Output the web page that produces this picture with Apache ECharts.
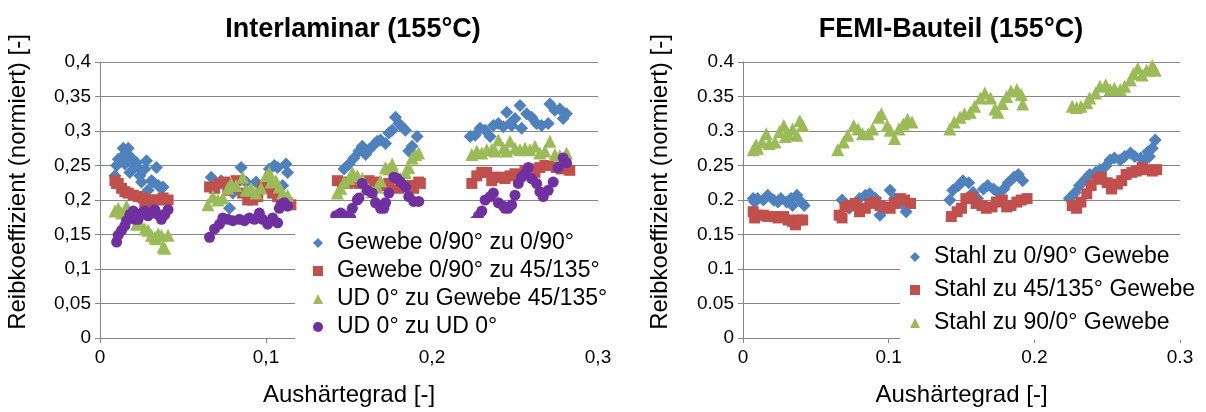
<!DOCTYPE html>
<html><head><meta charset="utf-8">
<script src="https://cdn.jsdelivr.net/npm/echarts@6/dist/echarts.min.js"></script>
<style>html,body{margin:0;padding:0;background:#fff}#c{width:1206px;height:412px}</style>
</head><body><div id="c"></div>
<script>
// ---- Data (x = Aushärtegrad, y = Reibkoeffizient normiert) ----
const leftTitle = 'Interlaminar (155°C)';
const rightTitle = 'FEMI-Bauteil (155°C)';
const xName = 'Aushärtegrad [-]';
const yName = 'Reibkoeffizient (normiert) [-]';
const leftNames = ['Gewebe 0/90° zu 0/90°', 'Gewebe 0/90° zu 45/135°', 'UD 0° zu Gewebe 45/135°', 'UD 0° zu UD 0°'];
const rightNames = ['Stahl zu 0/90° Gewebe', 'Stahl zu 45/135° Gewebe', 'Stahl zu 90/0° Gewebe'];

const gewebe090zu090 = [
[0.009,0.235],[0.010,0.250],[0.011,0.259],[0.013,0.262],[0.014,0.275],[0.015,0.252],[0.016,0.266],[0.017,0.275],[0.018,0.240],[0.019,0.261],[0.021,0.248],[0.022,0.254],[0.023,0.247],[0.024,0.235],[0.025,0.226],[0.027,0.245],[0.028,0.257],[0.029,0.214],[0.031,0.228],[0.032,0.226],[0.034,0.247],[0.035,0.221],[0.037,0.217],[0.038,0.219],
[0.067,0.233],[0.073,0.228],[0.078,0.188],[0.080,0.210],[0.085,0.247],[0.088,0.226],[0.094,0.226],[0.098,0.216],[0.102,0.245],[0.105,0.250],[0.107,0.247],[0.110,0.221],[0.112,0.252],[0.113,0.240],
[0.147,0.245],[0.150,0.252],[0.153,0.261],[0.156,0.271],[0.158,0.278],[0.160,0.266],[0.162,0.273],[0.165,0.280],[0.167,0.285],[0.169,0.287],[0.172,0.282],[0.174,0.297],[0.176,0.301],[0.178,0.320],[0.180,0.311],[0.182,0.306],[0.184,0.301],[0.186,0.271],[0.188,0.278],[0.191,0.292],
[0.223,0.292],[0.226,0.294],[0.229,0.304],[0.232,0.301],[0.235,0.292],[0.237,0.308],[0.240,0.311],[0.243,0.306],[0.245,0.327],[0.247,0.311],[0.248,0.308],[0.250,0.318],[0.253,0.337],[0.254,0.304],[0.257,0.325],[0.260,0.320],[0.263,0.311],[0.266,0.308],[0.270,0.311],[0.271,0.339],[0.274,0.330],[0.277,0.332],[0.279,0.318],[0.281,0.325]
];
const gewebe090zu45135 = [
[0.009,0.228],[0.010,0.224],[0.011,0.224],[0.013,0.217],[0.015,0.212],[0.017,0.210],[0.020,0.207],[0.023,0.205],[0.026,0.203],[0.027,0.196],[0.029,0.200],[0.031,0.198],[0.032,0.200],[0.035,0.200],[0.038,0.203],[0.041,0.200],
[0.066,0.219],[0.069,0.217],[0.072,0.224],[0.075,0.226],[0.077,0.214],[0.080,0.224],[0.082,0.228],[0.086,0.210],[0.089,0.200],[0.092,0.200],[0.095,0.205],[0.098,0.219],[0.101,0.217],[0.104,0.210],[0.107,0.205],[0.110,0.198],[0.113,0.196],[0.115,0.193],
[0.143,0.228],[0.146,0.226],[0.149,0.224],[0.152,0.226],[0.156,0.224],[0.159,0.226],[0.162,0.228],[0.166,0.226],[0.170,0.221],[0.174,0.224],[0.177,0.221],[0.180,0.217],[0.183,0.219],[0.186,0.221],[0.189,0.217],[0.192,0.226],[0.193,0.224],
[0.224,0.224],[0.227,0.235],[0.230,0.240],[0.233,0.240],[0.236,0.228],[0.238,0.233],[0.241,0.233],[0.244,0.231],[0.247,0.235],[0.250,0.238],[0.253,0.235],[0.256,0.243],[0.259,0.245],[0.262,0.240],[0.265,0.247],[0.268,0.250],[0.272,0.250],[0.275,0.247],[0.278,0.245],[0.281,0.247],[0.283,0.243]
];
const ud0zuGewebe45135 = [
[0.009,0.184],[0.011,0.188],[0.013,0.181],[0.016,0.191],[0.019,0.177],[0.022,0.165],[0.024,0.167],[0.027,0.158],[0.029,0.156],[0.031,0.149],[0.033,0.146],[0.034,0.144],[0.035,0.151],[0.037,0.149],[0.038,0.132],[0.039,0.130],[0.041,0.149],
[0.065,0.193],[0.068,0.205],[0.071,0.200],[0.074,0.203],[0.077,0.217],[0.079,0.224],[0.082,0.221],[0.086,0.233],[0.088,0.214],[0.091,0.217],[0.094,0.210],[0.097,0.217],[0.100,0.235],[0.102,0.240],[0.103,0.226],[0.106,0.228],[0.108,0.219],[0.110,0.210],[0.113,0.207],
[0.143,0.210],[0.145,0.217],[0.147,0.226],[0.150,0.231],[0.152,0.240],[0.155,0.235],[0.158,0.231],[0.160,0.217],[0.161,0.219],[0.164,0.212],[0.167,0.219],[0.169,0.228],[0.172,0.247],[0.174,0.245],[0.176,0.252],[0.178,0.240],[0.181,0.231],[0.184,0.240],[0.186,0.247],[0.188,0.261],[0.190,0.266],[0.192,0.268],
[0.224,0.266],[0.227,0.271],[0.230,0.268],[0.233,0.273],[0.236,0.273],[0.238,0.271],[0.240,0.287],[0.243,0.275],[0.245,0.271],[0.247,0.285],[0.250,0.275],[0.253,0.273],[0.256,0.275],[0.259,0.273],[0.262,0.278],[0.265,0.268],[0.268,0.271],[0.271,0.285],[0.274,0.266],[0.277,0.264],[0.281,0.268]
];
const ud0zuUd0 = [
[0.010,0.139],[0.011,0.149],[0.013,0.156],[0.015,0.163],[0.016,0.170],[0.018,0.179],[0.020,0.184],[0.021,0.172],[0.023,0.172],[0.025,0.181],[0.027,0.184],[0.029,0.177],[0.031,0.181],[0.033,0.186],[0.035,0.179],[0.037,0.172],[0.039,0.179],[0.041,0.186],
[0.066,0.146],[0.069,0.158],[0.072,0.165],[0.074,0.174],[0.077,0.172],[0.080,0.170],[0.084,0.172],[0.087,0.170],[0.090,0.174],[0.093,0.172],[0.096,0.181],[0.098,0.172],[0.101,0.165],[0.104,0.174],[0.107,0.167],[0.108,0.188],[0.109,0.193],[0.111,0.196],[0.113,0.191],
[0.142,0.177],[0.145,0.181],[0.148,0.177],[0.151,0.174],[0.152,0.188],[0.155,0.200],[0.156,0.203],[0.158,0.224],[0.161,0.214],[0.164,0.210],[0.166,0.196],[0.169,0.188],[0.171,0.188],[0.172,0.196],[0.174,0.210],[0.177,0.233],[0.179,0.231],[0.181,0.226],[0.184,0.219],[0.186,0.205],[0.189,0.198],[0.192,0.198],
[0.226,0.170],[0.228,0.177],[0.230,0.184],[0.232,0.200],[0.235,0.205],[0.237,0.210],[0.240,0.196],[0.243,0.191],[0.244,0.188],[0.246,0.188],[0.248,0.193],[0.250,0.207],[0.252,0.224],[0.254,0.233],[0.256,0.238],[0.258,0.247],[0.260,0.231],[0.263,0.224],[0.265,0.212],[0.267,0.205],[0.270,0.214],[0.273,0.226],[0.276,0.247],[0.279,0.261],[0.281,0.254]
];
const stahlZu090 = [
[0.007,0.202],[0.008,0.197],[0.010,0.202],[0.014,0.200],[0.017,0.207],[0.021,0.200],[0.024,0.197],[0.026,0.202],[0.030,0.197],[0.033,0.202],[0.034,0.192],[0.037,0.207],[0.040,0.197],[0.042,0.192],
[0.068,0.200],[0.073,0.188],[0.080,0.202],[0.084,0.207],[0.087,0.209],[0.091,0.202],[0.094,0.178],[0.097,0.188],[0.101,0.214],[0.104,0.202],[0.109,0.195],[0.112,0.183],
[0.142,0.200],[0.144,0.214],[0.148,0.221],[0.151,0.228],[0.155,0.225],[0.158,0.211],[0.161,0.202],[0.165,0.216],[0.168,0.221],[0.172,0.216],[0.175,0.211],[0.179,0.216],[0.182,0.225],[0.186,0.233],[0.189,0.237],[0.192,0.228],
[0.224,0.202],[0.228,0.211],[0.231,0.221],[0.235,0.230],[0.238,0.237],[0.242,0.240],[0.245,0.244],[0.249,0.249],[0.252,0.258],[0.255,0.261],[0.259,0.258],[0.262,0.263],[0.266,0.268],[0.269,0.263],[0.273,0.261],[0.276,0.258],[0.278,0.270],[0.279,0.263],[0.281,0.275],[0.283,0.287]
];
const stahlZu45135 = [
[0.007,0.183],[0.008,0.174],[0.010,0.178],[0.014,0.178],[0.017,0.176],[0.021,0.176],[0.024,0.174],[0.028,0.176],[0.031,0.171],[0.034,0.169],[0.036,0.164],[0.038,0.171],[0.041,0.171],
[0.066,0.178],[0.068,0.174],[0.070,0.190],[0.073,0.192],[0.077,0.195],[0.080,0.183],[0.084,0.188],[0.087,0.195],[0.091,0.197],[0.094,0.192],[0.097,0.190],[0.101,0.188],[0.104,0.195],[0.108,0.202],[0.111,0.200],[0.115,0.195],
[0.143,0.176],[0.147,0.183],[0.150,0.188],[0.153,0.202],[0.157,0.204],[0.160,0.195],[0.164,0.192],[0.167,0.188],[0.171,0.190],[0.174,0.197],[0.178,0.200],[0.181,0.190],[0.184,0.192],[0.188,0.197],[0.191,0.200],[0.195,0.202],
[0.226,0.192],[0.229,0.188],[0.232,0.197],[0.236,0.209],[0.239,0.221],[0.243,0.230],[0.246,0.233],[0.250,0.225],[0.253,0.216],[0.257,0.223],[0.260,0.228],[0.263,0.237],[0.267,0.240],[0.270,0.242],[0.274,0.247],[0.277,0.244],[0.281,0.242],[0.284,0.244]
];
const stahlZu900 = [
[0.007,0.273],[0.009,0.280],[0.010,0.275],[0.013,0.284],[0.016,0.296],[0.018,0.282],[0.022,0.284],[0.025,0.299],[0.028,0.308],[0.029,0.292],[0.031,0.296],[0.034,0.303],[0.037,0.294],[0.039,0.315],[0.041,0.308],
[0.065,0.273],[0.069,0.284],[0.072,0.294],[0.076,0.308],[0.079,0.303],[0.082,0.296],[0.086,0.296],[0.089,0.303],[0.093,0.320],[0.095,0.325],[0.099,0.308],[0.101,0.301],[0.104,0.289],[0.107,0.303],[0.110,0.310],[0.113,0.317],[0.116,0.313],
[0.142,0.303],[0.145,0.313],[0.149,0.320],[0.152,0.325],[0.156,0.327],[0.159,0.336],[0.163,0.348],[0.166,0.355],[0.170,0.348],[0.173,0.332],[0.175,0.327],[0.178,0.340],[0.181,0.350],[0.184,0.358],[0.188,0.360],[0.191,0.353],[0.192,0.339],
[0.226,0.336],[0.229,0.334],[0.232,0.336],[0.236,0.341],[0.238,0.348],[0.242,0.355],[0.245,0.365],[0.249,0.367],[0.252,0.360],[0.255,0.362],[0.259,0.360],[0.262,0.365],[0.266,0.374],[0.268,0.383],[0.271,0.391],[0.274,0.381],[0.277,0.388],[0.281,0.395],[0.283,0.388]
];

const COLORS = {blue:'#4F81BD', red:'#C0504D', green:'#9BBB59', purple:'#7030A0'};
const FONT = '"Liberation Sans", Arial, sans-serif';
const GRID_COLOR = '#868686';

function fmt(sep){ return v => { const s = String(Math.round(v*100)/100); return sep === ',' ? s.replace('.', ',') : s; }; }

function xAx(idx, sep){
  return {gridIndex: idx, type:'value', min:0, max:0.3, interval:0.1,
    name: xName, nameLocation:'middle', nameGap:45,
    nameTextStyle:{fontFamily:FONT, fontSize:24, color:'#000'},
    axisLine:{show:true, lineStyle:{color:GRID_COLOR, width:1}},
    axisTick:{show:true, length:5, lineStyle:{color:GRID_COLOR}},
    axisLabel:{fontFamily:FONT, fontSize:19, color:'#000', margin:10, formatter: fmt(sep)},
    splitLine:{show:false}};
}
function yAx(idx, sep){
  return {gridIndex: idx, type:'value', min:0, max:0.4, interval:0.05,
    axisLine:{show:true, lineStyle:{color:GRID_COLOR, width:1}},
    axisTick:{show:true, length:5, lineStyle:{color:GRID_COLOR}},
    axisLabel:{fontFamily:FONT, fontSize:19, color:'#000', margin:9, formatter: fmt(sep)},
    splitLine:{show:true, lineStyle:{color:GRID_COLOR, width:1}}};
}
function sc(name, data, symbol, size, color, idx){
  return {type:'scatter', name, data, symbol, symbolSize:size, xAxisIndex:idx, yAxisIndex:idx,
    itemStyle:{color, opacity:1}, emphasis:{disabled:true}, animation:false};
}
function yTitle(x, y){
  return {type:'text', x, y, rotation:Math.PI/2, z:20,
    style:{text:yName, fontFamily:FONT, fontSize:24, fill:'#000', textAlign:'center', textVerticalAlign:'middle'}};
}
const SYM = ['diamond', 'rect', 'triangle', 'circle'];

const chart = echarts.init(document.getElementById('c'), null, {renderer:'canvas'});
chart.setOption({
  backgroundColor:'#fff',
  animation:false,
  textStyle:{fontFamily:FONT},
  title:[
    {text:leftTitle, left:348, top:11, textAlign:'center', textStyle:{fontFamily:FONT, fontSize:27, fontWeight:'bold', color:'#000'}},
    {text:rightTitle, left:946, top:11, textAlign:'center', textStyle:{fontFamily:FONT, fontSize:27, fontWeight:'bold', color:'#000'}}
  ],
  graphic:[yTitle(18, 182), yTitle(660, 182)],
  grid:[
    {left:100, right:608, top:62, bottom:67},
    {left:743, right:26, top:62, bottom:67}
  ],
  xAxis:[xAx(0, ','), xAx(1, '.')],
  yAxis:[yAx(0, ','), yAx(1, '.')],
  legend:[
    {data:leftNames.map((n,i)=>({name:n, icon:SYM[i]})), orient:'vertical', left:295, top:218, padding:[13,10,4,18], itemGap:4,
     itemWidth:10, itemHeight:10, backgroundColor:'#fff', z:10,
     textStyle:{fontFamily:FONT, fontSize:23, color:'#000', lineHeight:24, padding:[0,0,0,9]}, selectedMode:false},
    {data:rightNames.map((n,i)=>({name:n, icon:SYM[i]})), orient:'vertical', left:900, top:242, padding:[3,10,5,10], itemGap:9,
     itemWidth:10, itemHeight:10, backgroundColor:'#fff', z:10,
     textStyle:{fontFamily:FONT, fontSize:23, color:'#000', lineHeight:24, padding:[0,0,0,9]}, selectedMode:false}
  ],
  series:[
    sc(leftNames[0], gewebe090zu090, 'diamond', 13, COLORS.blue, 0),
    sc(leftNames[1], gewebe090zu45135, 'rect', 11, COLORS.red, 0),
    sc(leftNames[2], ud0zuGewebe45135, 'triangle', 13, COLORS.green, 0),
    sc(leftNames[3], ud0zuUd0, 'circle', 11, COLORS.purple, 0),
    sc(rightNames[0], stahlZu090, 'diamond', 13, COLORS.blue, 1),
    sc(rightNames[1], stahlZu45135, 'rect', 11, COLORS.red, 1),
    sc(rightNames[2], stahlZu900, 'triangle', 13, COLORS.green, 1)
  ]
});
</script></body></html>
